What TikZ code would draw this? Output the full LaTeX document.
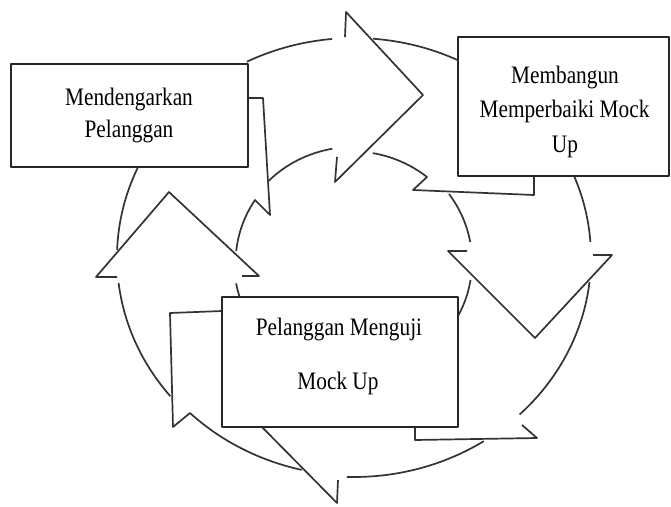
\documentclass[tikz,border=0pt]{standalone}
\usepackage{fontspec}
\setmainfont{Liberation Serif}
\usepackage{graphicx}
\newcommand\tallline[1]{\scalebox{1}[1.18]{#1}}
\begin{document}
\begin{tikzpicture}[x=1pt,y=-1pt,line join=round,
  ring/.style={draw=black!80,line width=1.7pt},
  box/.style={draw=black!85,line width=2.1pt,fill=white,inner sep=0pt,outer sep=0pt,anchor=north west},
  txt/.style={anchor=base,inner sep=0pt,font=\fontsize{21.3}{25}\selectfont}]
\useasboundingbox (0,0) rectangle (671,506);
% outer ring segments
\draw[ring] (354,257.5) ++(-116.9:237 and 219.5) arc[start angle=-116.9,end angle=-95.3,x radius=237,y radius=219.5];
\draw[ring] (354,257.5) ++(-85.4:237 and 219.5) arc[start angle=-85.4,end angle=-4.05,x radius=237,y radius=219.5];
\draw[ring] (354,257.5) ++(6.45:237 and 219.5) arc[start angle=6.45,end angle=45.67,x radius=237,y radius=219.5];
\draw[ring] (354,257.5) ++(56.8:237 and 219.5) arc[start angle=56.8,end angle=91.7,x radius=237,y radius=219.5];
\draw[ring] (222,311) -- (170,313) -- (173,427) -- (190,413) arc[start angle=134.4,end angle=103.2,x radius=237,y radius=219.5];
\draw[ring] (354,257.5) ++(140.8:237 and 219.5) arc[start angle=140.8,end angle=173.3,x radius=237,y radius=219.5];
\draw[ring] (354,257.5) ++(182:237 and 219.5) arc[start angle=182,end angle=210,x radius=237,y radius=219.5];
% inner ring segments
\draw[ring] (248,98) -- (263,98) -- (270,215) -- (255,200) arc[start angle=213.2,end angle=186,x radius=119,y radius=115];
\draw[ring] (353,262) ++(225:119 and 115) arc[start angle=225,end angle=260,x radius=119,y radius=115];
\draw[ring] (534,176) -- (534,195) -- (413,190) -- (427,177) arc[start angle=-51,end angle=-80,x radius=119,y radius=115];
\draw[ring] (353,262) ++(-36.2:119 and 115) arc[start angle=-36.2,end angle=-10,x radius=119,y radius=115];
\draw[ring] (353,262) ++(9:119 and 115) arc[start angle=9,end angle=30,x radius=119,y radius=115];
\draw[ring] (353,262) ++(169.3:119 and 115) arc[start angle=169.3,end angle=150,x radius=119,y radius=115];
% tail below box 3
\draw[ring] (415,427) -- (415,440) -- (537,438) -- (522,425);
% arrowheads
\draw[ring] (345,37) -- (346,12) -- (423,95) -- (335,182) -- (337,157);
\draw[ring] (467,251) -- (448,251) -- (535,338) -- (612,255) -- (593,255);
\draw[ring] (117,277) -- (96,277) -- (169,192) -- (259,276) -- (242,276);
\draw[ring] (338,480) -- (337,503) -- (255,420);
% boxes
\node[box,minimum width=237pt,minimum height=103pt] (b1) at (11,64) {};
\node[box,minimum width=211pt,minimum height=139pt] (b2) at (458,37) {};
\node[box,minimum width=236pt,minimum height=130pt] (b3) at (222,297) {};
% texts
\node[txt] (t1a) at (129,105) {\tallline{Mendengarkan}};
\node[txt] (t1b) at (129,137) {\tallline{Pelanggan}};
\node[txt] (t2a) at (565,83) {\tallline{Membangun}};
\node[txt] (t2b) at (564.5,117) {\tallline{Memperbaiki Mock}};
\node[txt] (t2c) at (565,152) {\tallline{Up}};
\node[txt] (t3a) at (339,335) {\tallline{Pelanggan Menguji}};
\node[txt] (t3b) at (338,389) {\tallline{Mock Up}};
\end{tikzpicture}
\end{document}
